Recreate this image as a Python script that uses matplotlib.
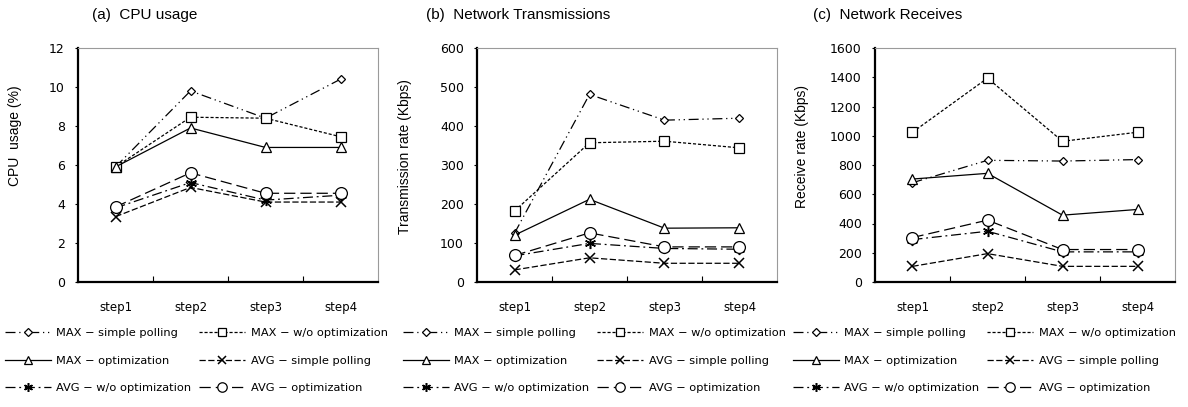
import matplotlib
matplotlib.use("Agg")
import matplotlib.pyplot as plt
import numpy as np

steps = ["step1", "step2", "step3", "step4"]

series_names = ["MAX − simple polling", "MAX − w/o optimization", "MAX − optimization",
                "AVG − simple polling", "AVG − w/o optimization", "AVG − optimization"]

# (a) CPU usage (%)
cpu_max_simple = [5.9, 9.8, 8.4, 10.4]
cpu_max_woopt = [5.9, 8.45, 8.4, 7.45]
cpu_max_opt = [5.9, 7.9, 6.9, 6.9]
cpu_avg_simple = [3.35, 4.85, 4.1, 4.1]
cpu_avg_woopt = [3.8, 5.1, 4.2, 4.45]
cpu_avg_opt = [3.85, 5.6, 4.55, 4.55]

# (b) transmission rate (Kbps)
tx_max_simple = [125, 481, 415, 420]
tx_max_woopt = [182, 357, 361, 344]
tx_max_opt = [120, 212, 138, 139]
tx_avg_simple = [31, 62, 48, 48]
tx_avg_woopt = [67, 99, 86, 84]
tx_avg_opt = [68, 126, 90, 90]

# (c) receive rate (Kbps)
rx_max_simple = [679, 832, 827, 837]
rx_max_woopt = [1024, 1394, 962, 1024]
rx_max_opt = [704, 743, 457, 496]
rx_avg_simple = [107, 194, 107, 107]
rx_avg_woopt = [290, 347, 206, 206]
rx_avg_opt = [304, 423, 222, 222]

styles = [
    dict(ls=(0, (8, 3, 1, 3, 1, 3)), marker="D", ms=4.5),
    dict(ls=(0, (2.5, 1.5)), marker="s", ms=6.5),
    dict(ls="-", marker="^", ms=6.5),
    dict(ls=(0, (5, 2)), marker="x", ms=7, mew=1.1),
    dict(ls=(0, (8, 3, 1.5, 3)), marker=(6, 2, 0), ms=8, mew=1.1),
    dict(ls=(0, (9, 4)), marker="o", ms=8.5),
]

# title, ylabel, ymax, ystep, data, axes left px, title x px, ylabel x px, ylabel y px
panels = [
    ("(a)  CPU usage", "CPU  usage (%)", 12, 2,
     [cpu_max_simple, cpu_max_woopt, cpu_max_opt, cpu_avg_simple, cpu_avg_woopt, cpu_avg_opt],
     78, 92, 15, 136),
    ("(b)  Network Transmissions", "Transmission rate (Kbps)", 600, 100,
     [tx_max_simple, tx_max_woopt, tx_max_opt, tx_avg_simple, tx_avg_woopt, tx_avg_opt],
     477, 426, 405, 157),
    ("(c)  Network Receives", "Receive rate (Kbps)", 1600, 200,
     [rx_max_simple, rx_max_woopt, rx_max_opt, rx_avg_simple, rx_avg_woopt, rx_avg_opt],
     875, 813, 802, 146),
]
legend_x = [5, 403, 793]

W, H = 1188, 407
fig = plt.figure(figsize=(W / 100, H / 100), dpi=100)
x = np.arange(1, 5)

for i, (title, ylabel, ymax, ystep, data, axl, tx, lx, ly) in enumerate(panels):
    ax = fig.add_axes([axl / W, (H - 282) / H, 300 / W, 234 / H])
    handles = []
    for vals, st in zip(data, styles):
        ln, = ax.plot(x, vals, color="black", lw=0.9, ls=st["ls"], marker=st["marker"],
                      ms=st["ms"], mfc="white", mec="black", mew=st.get("mew", 0.9))
        handles.append(ln)
    ax.set_xlim(0.5, 4.5)
    ax.set_ylim(0, ymax)
    ax.set_yticks(np.arange(0, ymax + 1, ystep))
    ax.set_xticks(x)
    ax.set_xticklabels(steps, fontsize=8.5)
    ax.set_xticks([1.5, 2.5, 3.5], minor=True)
    ax.tick_params(axis="x", which="major", length=0, pad=14)
    ax.tick_params(axis="x", which="minor", direction="in", length=4, width=0.8)
    ax.tick_params(axis="y", length=2.5, width=0.8, pad=7, labelsize=9)
    for s in ["left", "bottom"]:
        ax.spines[s].set_linewidth(1.6)
    for s in ["top", "right"]:
        ax.spines[s].set_color("#9a9a9a")
        ax.spines[s].set_linewidth(0.8)
    fig.text(tx / W, 1 - 15 / H, title, fontsize=11, family="Liberation Sans",
             ha="left", va="center")
    fig.text(lx / W, 1 - ly / H, ylabel, fontsize=10, family="Liberation Sans",
             rotation=90, ha="center", va="center")
    order = [0, 2, 4, 1, 3, 5]
    fig.legend([handles[k] for k in order], [series_names[k] for k in order],
               loc="upper left", bbox_to_anchor=(legend_x[i] / W, 1 - 328 / H),
               ncol=2, frameon=False, fontsize=8.2, handlelength=4.0,
               handletextpad=0.5, columnspacing=0.7, labelspacing=1.55,
               borderpad=0, borderaxespad=0, markerscale=0.8)

fig.savefig("out.png", dpi=100)
